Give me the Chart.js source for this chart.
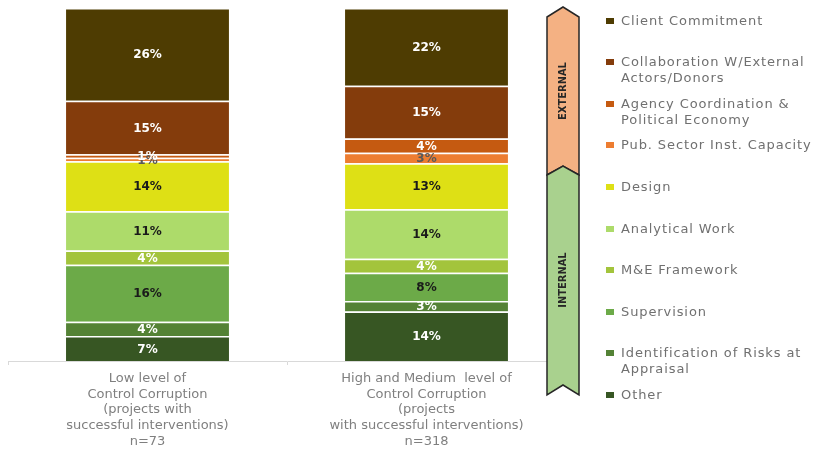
<!DOCTYPE html>
<html>
<head>
<meta charset="utf-8">
<script src="https://cdn.jsdelivr.net/npm/chart.js@4.4.1/dist/chart.umd.min.js"></script>
<style>
  html, body { margin: 0; padding: 0; background: #fff; }
  #wrap { position: relative; width: 816px; height: 452px; overflow: hidden; }
  #legend { position: absolute; left: 0; top: 0; font-family: "DejaVu Sans"; font-size: 13px; color: #707070; letter-spacing: 0.9px; }
  .item { position: absolute; left: 606px; width: 210px; line-height: 16px; }
  .box { position: absolute; left: 0; top: 5px; width: 8px; height: 6px; }
  .txt { position: absolute; left: 15px; white-space: nowrap; }
</style>
</head>
<body>
<div id="wrap">
  <canvas id="myChart" width="816" height="452"></canvas>
  <div id="legend"></div>
</div>
<script>
// x categories (tick labels, one line per entry)
const categories = [
  ['Low level of', 'Control Corruption', '(projects with', 'successful interventions)', 'n=73'],
  ['High and Medium  level of', 'Control Corruption', '(projects', 'with successful interventions)', 'n=318']
];

// drivers, listed top of stack -> bottom
const drivers = [
  ['Client Commitment'],
  ['Collaboration W/External', 'Actors/Donors'],
  ['Agency Coordination &', 'Political Economy'],
  ['Pub. Sector Inst. Capacity'],
  ['Design'],
  ['Analytical Work'],
  ['M&E Framework'],
  ['Supervision'],
  ['Identification of Risks at', 'Appraisal'],
  ['Other']
];

// shares in % (same order as drivers)
const lowLevel   = [26, 15, 1, 1, 14, 11, 4, 16, 4, 7];
const highMedium = [22, 15, 4, 3, 13, 14, 4, 8, 3, 14];

const colors = ['#4e3c02', '#843c0c', '#c55a11', '#ed7d31', '#dee015',
                '#addb6a', '#a3c43c', '#6caa48', '#548235', '#375623'];
const labelColors = ['#ffffff', '#ffffff', '#ffffff', '#595959', '#1a1a1a',
                     '#1a1a1a', '#ffffff', '#1a1a1a', '#ffffff', '#ffffff'];

const sumLow = lowLevel.reduce((a, b) => a + b, 0);
const sumHigh = highMedium.reduce((a, b) => a + b, 0);

// chart.js stacks first dataset at the bottom, so go in reverse
const datasets = [];
for (let i = drivers.length - 1; i >= 0; i--) {
  datasets.push({
    label: drivers[i].join(' '),
    data: [lowLevel[i] / sumLow * 100, highMedium[i] / sumHigh * 100],
    raw: [lowLevel[i], highMedium[i]],
    backgroundColor: colors[i],
    borderColor: '#ffffff',
    borderWidth: { top: 1.5, bottom: 0, left: 0, right: 0 },
    borderSkipped: false,
    labelColor: labelColors[i]
  });
}

// percent labels in the middle of every segment
const segmentLabels = {
  id: 'segmentLabels',
  afterDatasetsDraw(chart) {
    const ctx = chart.ctx;
    ctx.save();
    ctx.font = 'bold 12px "DejaVu Sans"';
    ctx.textAlign = 'center';
    ctx.textBaseline = 'middle';
    chart.data.datasets.forEach((ds, di) => {
      chart.getDatasetMeta(di).data.forEach((bar, j) => {
        ctx.fillStyle = ds.labelColor;
        ctx.fillText(ds.raw[j] + '%', bar.x, (bar.y + bar.base) / 2 + 1);
      });
    });
    ctx.restore();
  }
};

// the EXTERNAL / INTERNAL arrow next to the legend
const sideArrow = {
  id: 'sideArrow',
  afterDraw(chart) {
    const ctx = chart.ctx;
    const l = 547, r = 579, c = 563;
    ctx.save();
    ctx.lineWidth = 1.5;
    ctx.strokeStyle = '#262626';
    ctx.beginPath();
    ctx.moveTo(l, 17); ctx.lineTo(c, 7); ctx.lineTo(r, 17);
    ctx.lineTo(r, 175); ctx.lineTo(c, 166); ctx.lineTo(l, 175);
    ctx.closePath();
    ctx.fillStyle = '#f4b183';
    ctx.fill();
    ctx.stroke();
    ctx.beginPath();
    ctx.moveTo(l, 175); ctx.lineTo(c, 166); ctx.lineTo(r, 175);
    ctx.lineTo(r, 395); ctx.lineTo(c, 385); ctx.lineTo(l, 395);
    ctx.closePath();
    ctx.fillStyle = '#a9d18e';
    ctx.fill();
    ctx.stroke();

    ctx.fillStyle = '#262626';
    ctx.font = 'bold 11px "DejaVu Sans Condensed", "DejaVu Sans"';
    ctx.textAlign = 'center';
    ctx.textBaseline = 'middle';
    ctx.translate(c, 91);
    ctx.rotate(-Math.PI / 2);
    ctx.fillText('EXTERNAL', 0, 0);
    ctx.rotate(Math.PI / 2);
    ctx.translate(0, 189);
    ctx.rotate(-Math.PI / 2);
    ctx.fillText('INTERNAL', 0, 0);
    ctx.restore();
  }
};

const ctx = document.getElementById('myChart').getContext('2d');
const myChart = new Chart(ctx, {
  type: 'bar',
  data: { labels: categories, datasets: datasets },
  options: {
    responsive: false,
    animation: false,
    layout: { padding: { left: 8, top: 8, right: 250, bottom: -3 } },
    datasets: { bar: { categoryPercentage: 1, barPercentage: 0.584 } },
    plugins: { legend: { display: false }, tooltip: { enabled: false } },
    scales: {
      x: {
        stacked: true,
        grid: { drawOnChartArea: false, color: '#d9d9d9', tickLength: 4 },
        border: { color: '#d9d9d9' },
        ticks: {
          color: '#7f7f7f',
          font: { family: 'DejaVu Sans', size: 13 },
          maxRotation: 0,
          autoSkip: false,
          padding: 6
        }
      },
      y: { stacked: true, display: false, min: 0, max: 100 }
    }
  },
  plugins: [segmentLabels, sideArrow]
});

// legend on the right, built from the same arrays
const legend = document.getElementById('legend');
drivers.forEach((lines, i) => {
  const item = document.createElement('div');
  item.className = 'item';
  item.style.top = (12.5 + i * 41.6) + 'px';
  const box = document.createElement('div');
  box.className = 'box';
  box.style.background = colors[i];
  const txt = document.createElement('div');
  txt.className = 'txt';
  txt.innerHTML = lines.map(s => s.replace(/&/g, '&amp;')).join('<br>');
  item.appendChild(box);
  item.appendChild(txt);
  legend.appendChild(item);
});
</script>
</body>
</html>
